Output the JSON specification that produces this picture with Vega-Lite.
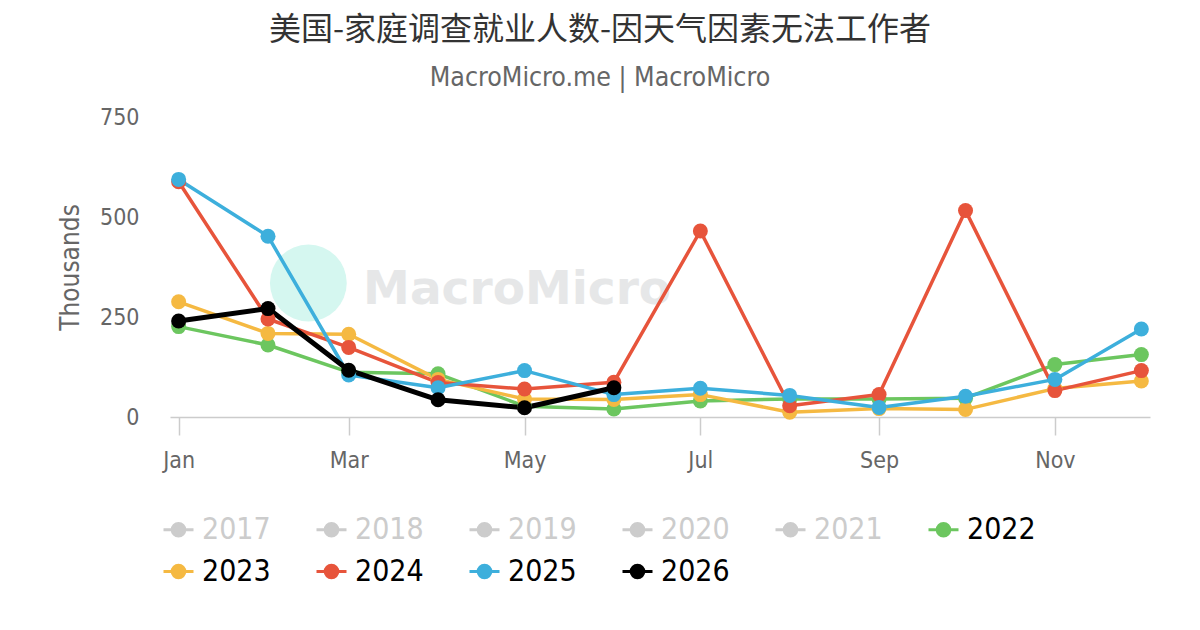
{
  "$schema": "https://vega.github.io/schema/vega-lite/v6.json",
  "autosize": "none",
  "width": 980,
  "height": 300,
  "padding": {"left": 170, "top": 117, "right": 50, "bottom": 213},
  "background": "#ffffff",
  "config": {
    "view": {"stroke": null},
    "font": "DejaVu Sans Condensed, DejaVu Sans"
  },
  "title": {
    "text": "美国-家庭调查就业人数-因天气因素无法工作者",
    "subtitle": "MacroMicro.me | MacroMicro",
    "anchor": "middle",
    "dx": -60,
    "offset": 14,
    "font": "Noto Sans CJK SC",
    "fontSize": 32,
    "fontWeight": "normal",
    "color": "#333333",
    "subtitleFont": "DejaVu Sans Condensed, DejaVu Sans",
    "subtitleFontSize": 26.5,
    "subtitleColor": "#666666",
    "subtitlePadding": 18
  },
  "datasets": {
    "series": [
      {"year": "2022", "month": "2001/01/01", "value": 226},
      {"year": "2022", "month": "2001/02/01", "value": 180},
      {"year": "2022", "month": "2001/03/01", "value": 112},
      {"year": "2022", "month": "2001/04/01", "value": 108},
      {"year": "2022", "month": "2001/05/01", "value": 27},
      {"year": "2022", "month": "2001/06/01", "value": 20},
      {"year": "2022", "month": "2001/07/01", "value": 40},
      {"year": "2022", "month": "2001/08/01", "value": 45},
      {"year": "2022", "month": "2001/09/01", "value": 45},
      {"year": "2022", "month": "2001/10/01", "value": 47},
      {"year": "2022", "month": "2001/11/01", "value": 131},
      {"year": "2022", "month": "2001/12/01", "value": 156},
      {"year": "2023", "month": "2001/01/01", "value": 288},
      {"year": "2023", "month": "2001/02/01", "value": 209},
      {"year": "2023", "month": "2001/03/01", "value": 207},
      {"year": "2023", "month": "2001/04/01", "value": 94},
      {"year": "2023", "month": "2001/05/01", "value": 45},
      {"year": "2023", "month": "2001/06/01", "value": 44},
      {"year": "2023", "month": "2001/07/01", "value": 56},
      {"year": "2023", "month": "2001/08/01", "value": 12},
      {"year": "2023", "month": "2001/09/01", "value": 21},
      {"year": "2023", "month": "2001/10/01", "value": 19},
      {"year": "2023", "month": "2001/11/01", "value": 71},
      {"year": "2023", "month": "2001/12/01", "value": 90},
      {"year": "2024", "month": "2001/01/01", "value": 588},
      {"year": "2024", "month": "2001/02/01", "value": 245},
      {"year": "2024", "month": "2001/03/01", "value": 174},
      {"year": "2024", "month": "2001/04/01", "value": 86},
      {"year": "2024", "month": "2001/05/01", "value": 70},
      {"year": "2024", "month": "2001/06/01", "value": 87},
      {"year": "2024", "month": "2001/07/01", "value": 465},
      {"year": "2024", "month": "2001/08/01", "value": 28},
      {"year": "2024", "month": "2001/09/01", "value": 56},
      {"year": "2024", "month": "2001/10/01", "value": 516},
      {"year": "2024", "month": "2001/11/01", "value": 66},
      {"year": "2024", "month": "2001/12/01", "value": 116},
      {"year": "2025", "month": "2001/01/01", "value": 594},
      {"year": "2025", "month": "2001/02/01", "value": 452},
      {"year": "2025", "month": "2001/03/01", "value": 105},
      {"year": "2025", "month": "2001/04/01", "value": 73},
      {"year": "2025", "month": "2001/05/01", "value": 116},
      {"year": "2025", "month": "2001/06/01", "value": 56},
      {"year": "2025", "month": "2001/07/01", "value": 72},
      {"year": "2025", "month": "2001/08/01", "value": 54},
      {"year": "2025", "month": "2001/09/01", "value": 24},
      {"year": "2025", "month": "2001/10/01", "value": 52},
      {"year": "2025", "month": "2001/11/01", "value": 94},
      {"year": "2025", "month": "2001/12/01", "value": 220},
      {"year": "2026", "month": "2001/01/01", "value": 240},
      {"year": "2026", "month": "2001/02/01", "value": 271},
      {"year": "2026", "month": "2001/03/01", "value": 117},
      {"year": "2026", "month": "2001/04/01", "value": 43},
      {"year": "2026", "month": "2001/05/01", "value": 23},
      {"year": "2026", "month": "2001/06/01", "value": 73}
    ],
    "watermark": [
      {"label": "MacroMicro"}
    ]
  },
  "layer": [
    {
      "data": {"name": "watermark"},
      "mark": {"type": "point", "filled": true, "shape": "circle", "size": 5900, "color": "#d5f7f0", "opacity": 1},
      "encoding": {
        "x": {"datum": {"year": 2001, "month": 2, "date": 15}, "type": "temporal"},
        "y": {"datum": 335, "type": "quantitative"}
      }
    },
    {
      "data": {"name": "watermark"},
      "mark": {"type": "text", "align": "left", "baseline": "middle", "font": "DejaVu Sans", "fontWeight": "bold", "fontSize": 47, "color": "#e6e7e8"},
      "encoding": {
        "x": {"datum": {"year": 2001, "month": 3, "date": 6}, "type": "temporal"},
        "y": {"datum": 318, "type": "quantitative"},
        "text": {"field": "label", "type": "nominal"}
      }
    },
    {
      "data": {"name": "series"},
      "mark": {"type": "line", "strokeCap": "round", "strokeJoin": "round"},
      "encoding": {
        "x": {
          "field": "month",
          "type": "temporal",
          "title": null,
          "scale": {
            "domain": [
              {"year": 2000, "month": 12, "date": 29},
              {"year": 2001, "month": 12, "date": 4}
            ]
          },
          "axis": {
            "values": [
              {"year": 2001, "month": 1, "date": 1},
              {"year": 2001, "month": 3, "date": 1},
              {"year": 2001, "month": 5, "date": 1},
              {"year": 2001, "month": 7, "date": 1},
              {"year": 2001, "month": 9, "date": 1},
              {"year": 2001, "month": 11, "date": 1}
            ],
            "format": "%b",
            "grid": false,
            "domainColor": "#cccccc",
            "domainWidth": 1.5,
            "tickColor": "#cccccc",
            "tickWidth": 1.5,
            "tickSize": 18,
            "labelPadding": 14,
            "labelFontSize": 23,
            "labelColor": "#666666",
            "labelFlush": false
          }
        },
        "y": {
          "field": "value",
          "type": "quantitative",
          "title": "Thousands",
          "scale": {"domain": [0, 750], "nice": false},
          "axis": {
            "values": [0, 250, 500, 750],
            "domain": false,
            "ticks": false,
            "tickSize": 0,
            "gridColor": "#e6e6e6",
            "gridWidth": 1.5,
            "labelPadding": 31,
            "labelFontSize": 23,
            "labelColor": "#666666",
            "titleFontSize": 26,
            "titleFontWeight": "normal",
            "titleColor": "#666666",
            "titlePadding": 16
          }
        },
        "color": {
          "field": "year",
          "type": "nominal",
          "scale": {
            "domain": ["2017", "2018", "2019", "2020", "2021", "2022", "2023", "2024", "2025", "2026"],
            "range": ["#cccccc", "#cccccc", "#cccccc", "#cccccc", "#cccccc", "#6cc65f", "#f5b942", "#e7543b", "#3dafdc", "#000000"]
          },
          "legend": {
            "title": null,
            "orient": "none",
            "legendX": -8,
            "legendY": 396,
            "direction": "horizontal",
            "columns": 6,
            "columnPadding": 39,
            "rowPadding": 10,
            "symbolType": "M-1,0L1,0M-0.42,0A0.42,0.42 0 1 0 0.42,0A0.42,0.42 0 1 0 -0.42,0Z",
            "symbolSize": 900,
            "symbolStrokeWidth": 3,
            "symbolOpacity": 1,
            "labelFontSize": 30,
            "labelOffset": 7,
            "labelLimit": 200,
            "encode": {
              "symbols": {
                "update": {
                  "fill": {"scale": "color", "field": "value"},
                  "stroke": {"scale": "color", "field": "value"}
                }
              },
              "labels": {
                "update": {
                  "fill": {"signal": "toNumber(datum.value) < 2022 ? '#cccccc' : '#000000'"}
                }
              }
            }
          }
        },
        "strokeWidth": {
          "condition": {"test": "datum.year == '2026'", "value": 5},
          "value": 3.5
        }
      }
    },
    {
      "data": {"name": "series"},
      "mark": {"type": "point", "filled": true, "shape": "circle", "size": 225, "opacity": 1},
      "encoding": {
        "x": {"field": "month", "type": "temporal"},
        "y": {"field": "value", "type": "quantitative"},
        "color": {"field": "year", "type": "nominal"}
      }
    }
  ]
}
